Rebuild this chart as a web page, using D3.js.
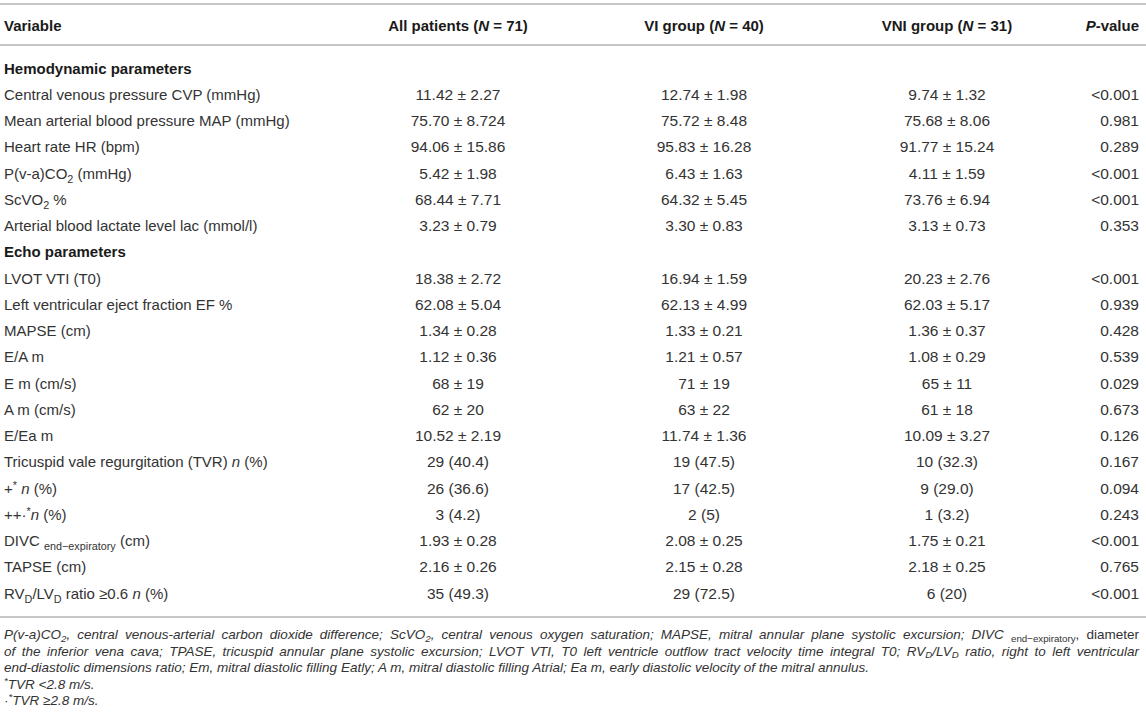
<!doctype html>
<meta charset=utf8>
<title>Table</title>
<style>
  body { margin: 0; background: white; }
  svg { display: block; }
  text { font-family: "Liberation Sans", Arial, sans-serif; fill: #333; }
  .head, .section { fill: #1a1a1a; font-weight: bold; }
  .rule { stroke: #b3b3b3; stroke-width: 1.5; }
</style>
<svg width=1146 height=726></svg>
<script src=https://d3js.org/d3.v7.min.js></script>
<script>
  // markup: {b:..} bold, {i:..} italic, {sub:..} / {sup:..}, {r:..} upright, {rsub:..} upright subscript
  var headers = ['Variable', 'All patients ({i:N} = 71)', 'VI group ({i:N} = 40)', 'VNI group ({i:N} = 31)', '{i:P}-value'];

  var rowLabels = [
    'Hemodynamic parameters',
    'Central venous pressure CVP (mmHg)',
    'Mean arterial blood pressure MAP (mmHg)',
    'Heart rate HR (bpm)',
    'P(v-a)CO{sub:2} (mmHg)',
    'ScVO{sub:2} %',
    'Arterial blood lactate level lac (mmol/l)',
    'Echo parameters',
    'LVOT VTI (T0)',
    'Left ventricular eject fraction EF %',
    'MAPSE (cm)',
    'E/A m',
    'E m (cm/s)',
    'A m (cm/s)',
    'E/Ea m',
    'Tricuspid vale regurgitation (TVR) {i:n} (%)',
    '+{sup:*} {i:n} (%)',
    '++·{sup:*}{i:n} (%)',
    'DIVC {sub:end\u2212expiratory} (cm)',
    'TAPSE (cm)',
    'RV{sub:D}/LV{sub:D} ratio \u22650.6 {i:n} (%)'
  ];
  var sectionRows = [0, 7];

  var allPatients = ['', '11.42 ± 2.27', '75.70 ± 8.724', '94.06 ± 15.86', '5.42 ± 1.98', '68.44 ± 7.71', '3.23 ± 0.79',
    '', '18.38 ± 2.72', '62.08 ± 5.04', '1.34 ± 0.28', '1.12 ± 0.36', '68 ± 19', '62 ± 20', '10.52 ± 2.19',
    '29 (40.4)', '26 (36.6)', '3 (4.2)', '1.93 ± 0.28', '2.16 ± 0.26', '35 (49.3)'];
  var viGroup = ['', '12.74 ± 1.98', '75.72 ± 8.48', '95.83 ± 16.28', '6.43 ± 1.63', '64.32 ± 5.45', '3.30 ± 0.83',
    '', '16.94 ± 1.59', '62.13 ± 4.99', '1.33 ± 0.21', '1.21 ± 0.57', '71 ± 19', '63 ± 22', '11.74 ± 1.36',
    '19 (47.5)', '17 (42.5)', '2 (5)', '2.08 ± 0.25', '2.15 ± 0.28', '29 (72.5)'];
  var vniGroup = ['', '9.74 ± 1.32', '75.68 ± 8.06', '91.77 ± 15.24', '4.11 ± 1.59', '73.76 ± 6.94', '3.13 ± 0.73',
    '', '20.23 ± 2.76', '62.03 ± 5.17', '1.36 ± 0.37', '1.08 ± 0.29', '65 ± 11', '61 ± 18', '10.09 ± 3.27',
    '10 (32.3)', '9 (29.0)', '1 (3.2)', '1.75 ± 0.21', '2.18 ± 0.25', '6 (20)'];
  var pValues = ['', '<0.001', '0.981', '0.289', '<0.001', '<0.001', '0.353',
    '', '<0.001', '0.939', '0.428', '0.539', '0.029', '0.673', '0.126',
    '0.167', '0.094', '0.243', '<0.001', '0.765', '<0.001'];

  var footnotes = [
    'P(v-a)CO{sub:2}, central venous-arterial carbon dioxide difference; ScVO{sub:2}, central venous oxygen saturation; MAPSE, mitral annular plane systolic excursion; DIVC {rsub:end\u2212expiratory}{r:, diameter}',
    'of the inferior vena cava; TPASE, tricuspid annular plane systolic excursion; LVOT VTI, T0 left ventricle outflow tract velocity time integral T0; RV{sub:D}/LV{sub:D} ratio, right to left ventricular',
    'end-diastolic dimensions ratio; Em, mitral diastolic filling Eatly; A m, mitral diastolic filling Atrial; Ea m, early diastolic velocity of the mitral annulus.',
    '{sup:*}TVR <2.8 m/s.',
    '·{sup:*}TVR \u22652.8 m/s.'
  ];

  var svg = d3.select('svg');
  var W = +svg.attr('width');
  var left = 4, right = 1139;

  var columns = [allPatients, viGroup, vniGroup, pValues];
  var colX = d3.scaleOrdinal().domain(d3.range(5)).range([left, 458, 704, 947, right]);
  var colAnchor = ['start', 'middle', 'middle', 'middle', 'end'];
  var rowY = d3.scalePoint().domain(d3.range(rowLabels.length)).range([68, 593]);
  var footY = d3.scalePoint().domain(d3.range(footnotes.length)).range([634, 700]);

  function rich(text, str, subShift) {
    var shift = 0;
    var re = /\{(\w+):([^}]*)\}|([^{]+)/g, m;
    while ((m = re.exec(str))) {
      var kind = m[1] || 'plain';
      var s = m[1] ? m[2] : m[3];
      var target = (kind === 'sub' || kind === 'rsub') ? subShift : kind === 'sup' ? -5 : 0;
      var t = text.append('tspan').attr('dy', target - shift).text(s);
      shift = target;
      if (kind === 'b') t.attr('font-weight', 'bold');
      if (kind === 'i') t.attr('font-style', 'italic');
      if (kind === 'r' || kind === 'rsub') t.attr('font-style', 'normal');
      if (target) t.attr('font-size', '0.72em');
    }
  }

  // rules
  svg.selectAll('.rule')
    .data([4, 45, 617])
    .enter()
    .append('line')
    .attr('class', 'rule')
    .attr('x1', 0)
    .attr('x2', W)
    .attr('y1', function(d) { return d; })
    .attr('y2', function(d) { return d; });

  // header
  svg.selectAll('.head')
    .data(headers)
    .enter()
    .append('text')
    .attr('class', 'head')
    .attr('x', function(d, i) { return colX(i); })
    .attr('y', 25 + 5.5)
    .attr('text-anchor', function(d, i) { return colAnchor[i]; })
    .style('font-size', '15px')
    .each(function(d) { rich(d3.select(this), d, 4); });

  // row labels
  svg.selectAll('.label')
    .data(rowLabels)
    .enter()
    .append('text')
    .attr('class', function(d, i) { return sectionRows.indexOf(i) >= 0 ? 'label section' : 'label'; })
    .attr('x', colX(0))
    .attr('y', function(d, i) { return rowY(i) + 5.5; })
    .style('font-size', '15px')
    .each(function(d) { rich(d3.select(this), d, 4); });

  // value cells
  columns.forEach(function(col, c) {
    svg.selectAll('.cell' + c)
      .data(col)
      .enter()
      .append('text')
      .attr('class', 'cell' + c)
      .attr('x', colX(c + 1))
      .attr('y', function(d, i) { return rowY(i) + 5.5; })
      .attr('text-anchor', colAnchor[c + 1])
      .style('font-size', '15.5px')
      .text(function(d) { return d; });
  });

  // footnotes, first two lines justified
  svg.selectAll('.foot')
    .data(footnotes)
    .enter()
    .append('text')
    .attr('class', 'foot')
    .attr('x', left)
    .attr('y', function(d, i) { return footY(i) + 5; })
    .style('font-size', '13.5px')
    .style('font-style', 'italic')
    .each(function(d, i) {
      var t = d3.select(this);
      rich(t, d, 2.5);
      if (i > 1) return;
      var w = this.getComputedTextLength();
      var target = right - left;
      var plain = d.replace(/\{\w+:([^}]*)\}/g, '$1');
      var spaces = (plain.match(/ /g) || []).length;
      var extra = (target - w) / spaces;
      if (extra > 0) t.style('word-spacing', extra + 'px');
      else t.attr('textLength', target).attr('lengthAdjust', 'spacingAndGlyphs');
    });
</script>
